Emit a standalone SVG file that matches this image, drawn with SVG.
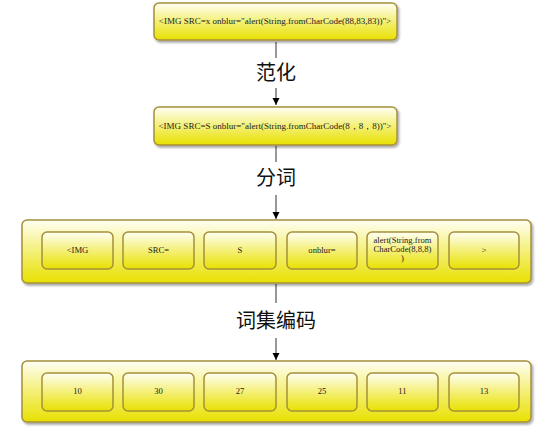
<svg xmlns="http://www.w3.org/2000/svg" width="554" height="434" viewBox="0 0 554 434">
<defs>
<linearGradient id="g" x1="0" y1="0" x2="0" y2="1">
<stop offset="0" stop-color="#fffff4"/>
<stop offset="0.55" stop-color="#f3ee6a"/>
<stop offset="1" stop-color="#e8e000"/>
</linearGradient>
<filter id="sh" x="-5%" y="-10%" width="110%" height="130%">
<feDropShadow dx="1.5" dy="2" stdDeviation="1.2" flood-color="#000" flood-opacity="0.35"/>
</filter>
<marker id="ah" markerWidth="7" markerHeight="8" refX="7" refY="4" orient="auto" markerUnits="userSpaceOnUse">
<path d="M0,0.5 L7,4 L0,7.5 Z" fill="#000"/>
</marker>
</defs>
<style>
.outer{fill:url(#g);stroke:#a5903a;stroke-width:1.5;filter:url(#sh)}
.inner{fill:url(#g);stroke:#a5903a;stroke-width:1.5}
.t{font-family:"Liberation Serif",serif;font-size:9px;fill:#222;text-anchor:middle}
.s{font-family:"Liberation Serif",serif;font-size:8.6px;fill:#222;text-anchor:middle}
.lab{font-family:"Noto Sans CJK SC",sans-serif;font-size:20px;fill:#111;text-anchor:middle}
.c{stroke:#333;stroke-width:1;fill:none}
</style>
<g id="connectors">
<line class="c" x1="276" y1="42" x2="276" y2="58"/>
<line class="c" x1="276" y1="88" x2="276" y2="105" marker-end="url(#ah)"/>
<line class="c" x1="276" y1="146" x2="276" y2="162"/>
<line class="c" x1="276" y1="195" x2="276" y2="219" marker-end="url(#ah)"/>
<line class="c" x1="276" y1="284" x2="276" y2="303"/>
<line class="c" x1="276" y1="338" x2="276" y2="360" marker-end="url(#ah)"/>
</g>
<g id="label1"><text class="lab" x="276" y="80">范化</text></g>
<g id="label2"><text class="lab" x="276" y="185">分词</text></g>
<g id="label3"><text class="lab" x="276" y="328">词集编码</text></g>
<g id="box1">
<rect class="outer" x="154" y="3" width="243" height="37" rx="5"/>
<text class="t" x="275" y="24">&lt;IMG SRC=x onblur="alert(String.fromCharCode(88,83,83))"&gt;</text>
</g>
<g id="box2">
<rect class="outer" x="154" y="107" width="243" height="38" rx="5"/>
<text class="t" x="275" y="129">&lt;IMG SRC=S onblur="alert(String.fromCharCode(8，8，8))"&gt;</text>
</g>
<g id="tokens">
<rect class="outer" x="22" y="220" width="509" height="63" rx="5"/>
<g id="tok1"><rect class="inner" x="42" y="232" width="71" height="37" rx="5"/><text class="s" x="77.5" y="253">&lt;IMG</text></g>
<g id="tok2"><rect class="inner" x="123" y="232" width="71" height="37" rx="5"/><text class="s" x="158.5" y="253">SRC=</text></g>
<g id="tok3"><rect class="inner" x="204" y="232" width="72" height="37" rx="5"/><text class="s" x="240" y="253">S</text></g>
<g id="tok4"><rect class="inner" x="287" y="232" width="70" height="37" rx="5"/><text class="s" x="322" y="253">onblur=</text></g>
<g id="tok5"><rect class="inner" x="367" y="232" width="71" height="37" rx="5"/><text class="s" x="402.5" y="243">alert(String.from</text><text class="s" x="402.5" y="252">CharCode(8,8,8)</text><text class="s" x="402.5" y="261">)</text></g>
<g id="tok6"><rect class="inner" x="449" y="232" width="70" height="37" rx="5"/><text class="s" x="484" y="253">&gt;</text></g>
</g>
<g id="codes">
<rect class="outer" x="22" y="361" width="509" height="61" rx="5"/>
<g id="code1"><rect class="inner" x="42" y="373" width="71" height="38" rx="5"/><text class="s" x="77.5" y="394">10</text></g>
<g id="code2"><rect class="inner" x="123" y="373" width="71" height="38" rx="5"/><text class="s" x="158.5" y="394">30</text></g>
<g id="code3"><rect class="inner" x="204" y="373" width="72" height="38" rx="5"/><text class="s" x="240" y="394">27</text></g>
<g id="code4"><rect class="inner" x="287" y="373" width="70" height="38" rx="5"/><text class="s" x="322" y="394">25</text></g>
<g id="code5"><rect class="inner" x="367" y="373" width="71" height="38" rx="5"/><text class="s" x="402.5" y="394">11</text></g>
<g id="code6"><rect class="inner" x="449" y="373" width="70" height="38" rx="5"/><text class="s" x="484" y="394">13</text></g>
</g>
</svg>
